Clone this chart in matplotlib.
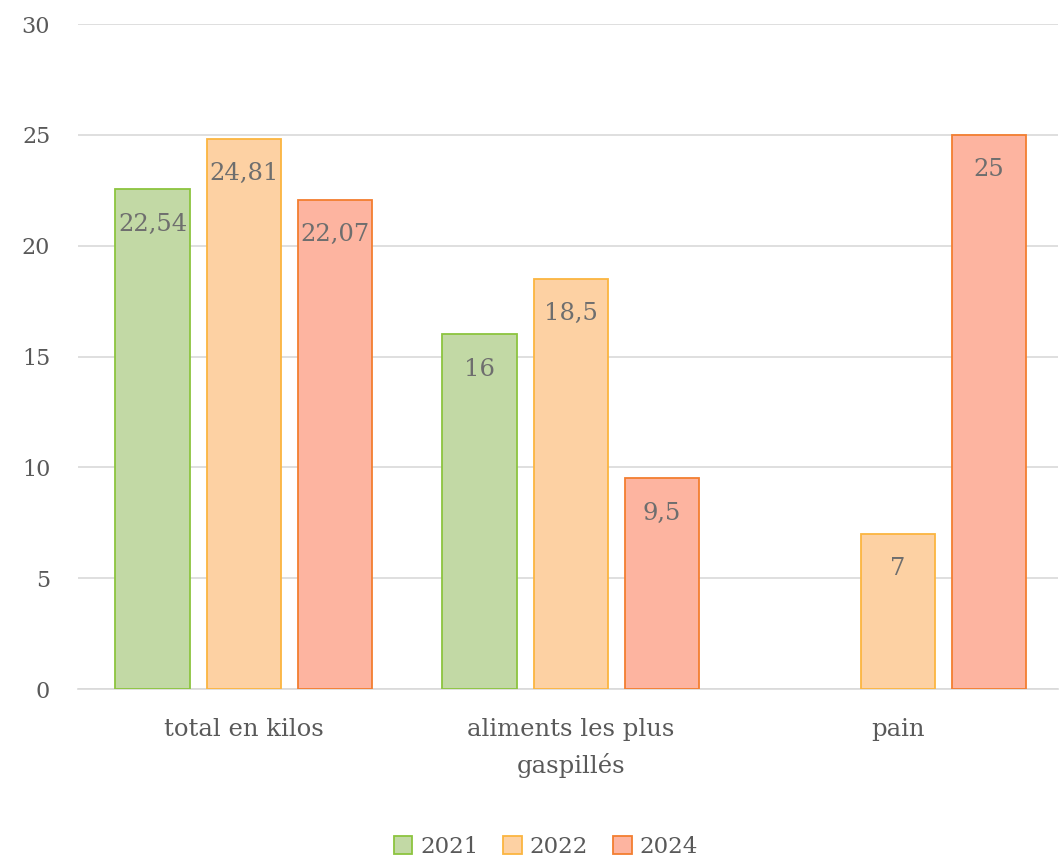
import matplotlib
matplotlib.use("Agg")
import matplotlib.pyplot as plt
import numpy as np

categories = ["total en kilos", "aliments les plus\ngaspillés", "pain"]
years = ["2021", "2022", "2024"]
values_2021 = [22.54, 16, None]
values_2022 = [24.81, 18.5, 7]
values_2024 = [22.07, 9.5, 25]
labels_2021 = ["22,54", "16", ""]
labels_2022 = ["24,81", "18,5", "7"]
labels_2024 = ["22,07", "9,5", "25"]
yticks = [0, 5, 10, 15, 20, 25, 30]

series = [values_2021, values_2022, values_2024]
labels = [labels_2021, labels_2022, labels_2024]
fills = ["#C2D9A5", "#FDD1A3", "#FDB4A0"]
edges = ["#8CC43F", "#FBB540", "#F37E30"]

plt.rcParams['font.family'] = ['DejaVu Serif']
text_color = "#595959"

fig = plt.figure(figsize=(10.6, 8.6), dpi=100)
ax = fig.add_axes([0.0736, 0.1988, 0.9244, 0.7732])

x = np.arange(len(categories))
bw = 0.227
step = 0.279
for i, (vals, labs) in enumerate(zip(series, labels)):
    xs = x + (i - 1) * step
    for xi, v, lab in zip(xs, vals, labs):
        if v is None:
            continue
        ax.bar(xi, v, width=bw, color=fills[i], edgecolor=edges[i], linewidth=1.3, zorder=3)
        ax.annotate(lab, (xi, v), xytext=(0, -25), textcoords="offset points",
                    ha="center", va="center", fontsize=17.5, color="#6e6e6e", zorder=4)

# legend handles
for i in range(3):
    ax.bar([np.nan], [np.nan], color=fills[i], edgecolor=edges[i], linewidth=1.3, label=years[i])

ax.set_xlim(-0.507, 2.49)
ax.set_ylim(0, 30)
ax.set_yticks(yticks)
ax.set_yticklabels([str(t) for t in yticks], fontsize=16, color=text_color)
ax.set_xticks(x)
ax.set_xticklabels(categories, fontsize=17.5, color=text_color, linespacing=1.6)
ax.tick_params(axis='both', length=0)
ax.tick_params(axis='y', pad=20)
ax.tick_params(axis='x', pad=21)
ax.yaxis.grid(True, color="#d9d9d9", linewidth=1.2, zorder=0)
ax.set_axisbelow(True)
for s in ["top", "right", "left"]:
    ax.spines[s].set_visible(False)
ax.spines["bottom"].set_color("#d9d9d9")
ax.spines["bottom"].set_linewidth(1.2)

h, l = ax.get_legend_handles_labels()
leg = fig.legend(h, l, loc="center", bbox_to_anchor=(0.515, 0.015), ncol=3, frameon=False,
                 fontsize=16.5, handlelength=0.8, handleheight=0.8, handletextpad=0.35,
                 columnspacing=1.1, labelcolor=text_color)

fig.savefig("out.png", dpi=100)
